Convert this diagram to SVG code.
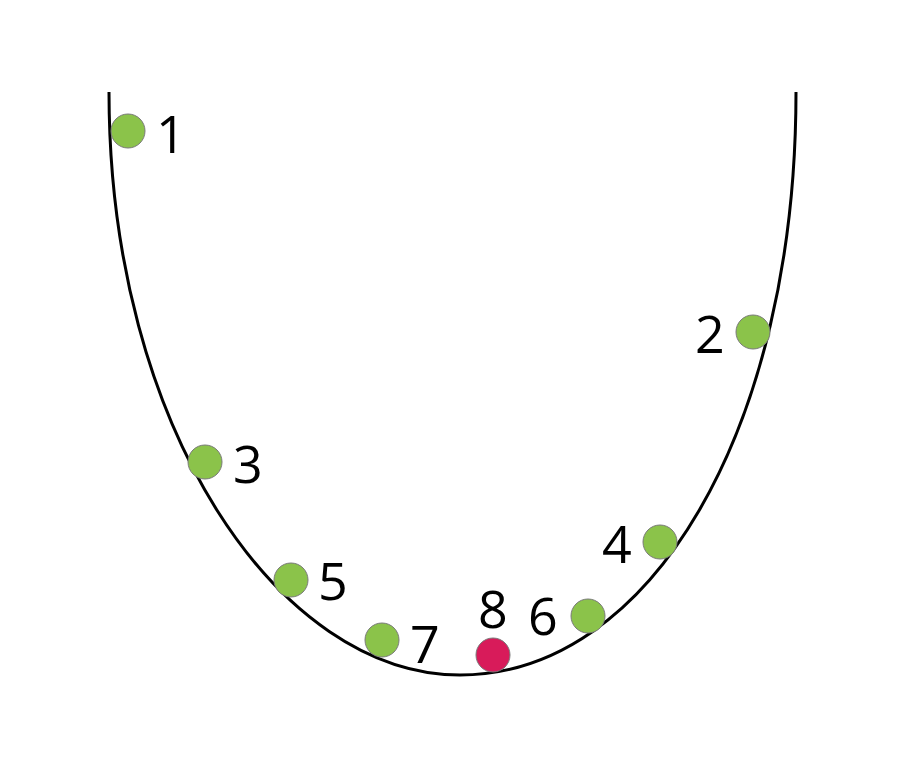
<svg xmlns="http://www.w3.org/2000/svg" width="924" height="776" viewBox="0 0 924 776">
<style>
.pt{fill:#8bc34a;stroke:#7a7a7a;stroke-width:1}
.red{fill:#d81b5a;stroke:#7a7a7a;stroke-width:1}
.lbl{font-family:"Open Sans","Liberation Sans",sans-serif;font-size:52px;fill:#000}
</style>
<rect width="924" height="776" fill="#fff"/>
<g id="connectors">
<path d="M109,92 C109,430 280,675 460,675 C650,675 796,430 796,92" fill="none" stroke="#000" stroke-width="3"/>
</g>
<g id="n1"><circle class="pt" cx="128" cy="131" r="17"/><text class="lbl" x="156" y="153">1</text></g>
<g id="n2"><circle class="pt" cx="753" cy="332" r="17"/><text class="lbl" x="695" y="353">2</text></g>
<g id="n3"><circle class="pt" cx="205" cy="462" r="17"/><text class="lbl" x="233" y="483">3</text></g>
<g id="n4"><circle class="pt" cx="660" cy="542" r="17"/><text class="lbl" x="602" y="563">4</text></g>
<g id="n5"><circle class="pt" cx="291" cy="580" r="17"/><text class="lbl" x="318" y="600">5</text></g>
<g id="n6"><circle class="pt" cx="588" cy="616" r="17"/><text class="lbl" x="528" y="635">6</text></g>
<g id="n7"><circle class="pt" cx="382" cy="640" r="17"/><text class="lbl" x="410" y="663">7</text></g>
<g id="n8"><circle class="red" cx="493" cy="655" r="17"/><text class="lbl" x="478" y="628">8</text></g>
</svg>
